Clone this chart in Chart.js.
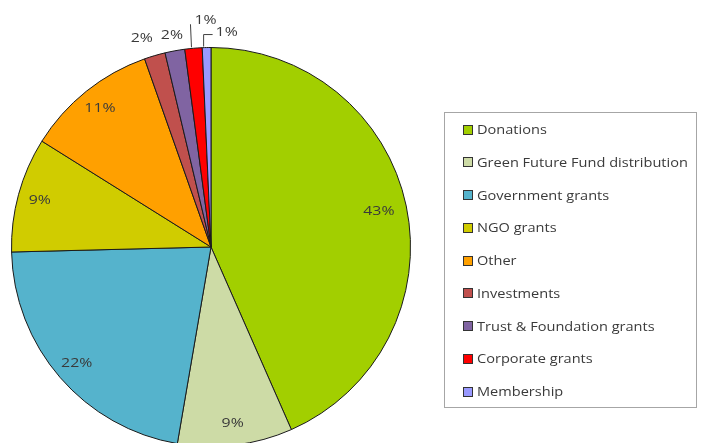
<!DOCTYPE html>
<html>
<head>
<meta charset="utf-8">
<script src="https://cdn.jsdelivr.net/npm/chart.js@4.4.1/dist/chart.umd.min.js"></script>
<style>
  html, body { margin: 0; padding: 0; background: #fff; overflow: hidden; width: 705px; height: 443px; }
  #wrap { position: relative; width: 705px; height: 443px; overflow: hidden; }
  #pie { position: absolute; left: 0; top: 0; }
  #legend {
    position: absolute; left: 444px; top: 112px; width: 251px; height: 294px;
    border: 1px solid #a6a6a6; font-family: "Open Sans", sans-serif; font-size: 13px; color: #3a3a3a;
  }
  #legend .row { position: absolute; left: 18px; height: 16px; line-height: 16px; white-space: nowrap; }
  #legend .sw { display: inline-block; width: 8px; height: 8px; border: 1px solid #333; vertical-align: middle; margin-right: 4px; position: relative; top: -1px; }
  #legend .txt { display: inline-block; transform: scaleX(1.12); transform-origin: left center; }
</style>
</head>
<body>
<div id="wrap">
  <canvas id="pie" width="705" height="494"></canvas>
  <div id="legend"></div>
</div>
<script>
const categorias = ['Donations', 'Green Future Fund distribution', 'Government grants', 'NGO grants', 'Other',
  'Investments', 'Trust & Foundation grants', 'Corporate grants', 'Membership'];
const valores = [43.4, 9.3, 21.9, 9.3, 10.7, 1.7, 1.6, 1.4, 0.7];
const colores = ['#a2cf00', '#cddba6', '#55b3cc', '#d0cc00', '#ffa000', '#c0504d', '#8064a2', '#ff0000', '#9999ff'];

// texto algo ensanchado, como en la imagen original
function texto(ctx, txt, x, y, align) {
  const k = 1.22;
  ctx.save();
  ctx.textAlign = align;
  ctx.scale(k, 1);
  ctx.fillText(txt, x / k, y);
  ctx.restore();
}

// etiquetas de porcentaje: dentro para las grandes, fuera para las pequeñas
const etiquetasPlugin = {
  id: 'etiquetas',
  afterDatasetsDraw(chart) {
    const ctx = chart.ctx;
    const meta = chart.getDatasetMeta(0);
    const total = valores.reduce((a, b) => a + b, 0);
    ctx.save();
    ctx.font = '13px "Open Sans", sans-serif';
    ctx.fillStyle = '#3a3a3a';
    ctx.strokeStyle = '#404040';
    ctx.lineWidth = 1;
    ctx.textBaseline = 'middle';
    meta.data.forEach((arc, i) => {
      const txt = Math.round(valores[i] / total * 100) + '%';
      const mid = (arc.startAngle + arc.endAngle) / 2;
      const r = arc.outerRadius;
      if (i < 5) {
        const f = i === 0 ? 0.86 : 0.89;
        texto(ctx, txt, arc.x + Math.cos(mid) * r * f, arc.y + Math.sin(mid) * r * f, 'center');
      } else if (i < 7) {
        const a = mid - (i === 5 ? 0.035 : 0);
        const rr = r + (i === 5 ? 20 : 16);
        texto(ctx, txt, arc.x + Math.cos(a) * rr, arc.y + Math.sin(a) * rr, 'center');
      } else {
        const ax = arc.x + Math.cos(mid) * r;
        const ay = arc.y + Math.sin(mid) * r;
        ctx.beginPath();
        if (i === 7) {
          ctx.moveTo(ax - 2, ay - 1);
          ctx.lineTo(ax - 3, ay - 24);
          ctx.stroke();
          texto(ctx, txt, ax + 1, ay - 28, 'left');
        } else {
          ctx.moveTo(ax - 3, ay - 1);
          ctx.lineTo(ax - 3, ay - 13);
          ctx.lineTo(ax + 6, ay - 13);
          ctx.stroke();
          texto(ctx, txt, ax + 9, ay - 15, 'left');
        }
      }
    });
    ctx.restore();
  }
};

const ctxPie = document.getElementById('pie').getContext('2d');
const myPieChart = new Chart(ctxPie, {
  type: 'pie',
  data: {
    labels: categorias,
    datasets: [{
      data: valores,
      backgroundColor: colores,
      borderColor: '#1a1a1a',
      borderWidth: 1
    }]
  },
  options: {
    responsive: false,
    animation: false,
    devicePixelRatio: 1,
    layout: { padding: { left: 11, right: 294, top: 47, bottom: 47 } },
    plugins: {
      legend: { display: false },
      tooltip: { enabled: false }
    }
  },
  plugins: [etiquetasPlugin]
});

// leyenda en HTML
const legend = document.getElementById('legend');
categorias.forEach((c, i) => {
  const row = document.createElement('div');
  row.className = 'row';
  row.style.top = (8 + i * 32.75) + 'px';
  const sw = document.createElement('span');
  sw.className = 'sw';
  sw.style.background = colores[i];
  const t = document.createElement('span');
  t.className = 'txt';
  t.textContent = c;
  row.appendChild(sw);
  row.appendChild(t);
  legend.appendChild(row);
});
</script>
</body>
</html>
